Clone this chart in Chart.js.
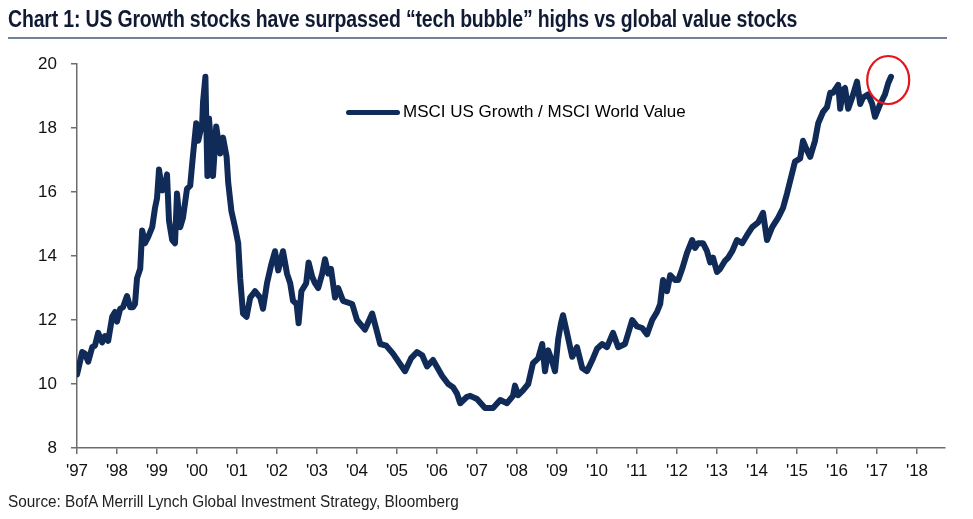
<!DOCTYPE html>
<html lang="en">
<head>
  <meta charset="UTF-8">
  <title>US Growth vs Global Value</title>
  <script src="https://cdn.jsdelivr.net/npm/chart.js"></script>
  <style>
    html, body {
      margin: 0; padding: 0;
      width: 973px; height: 519px;
      background: #fff; overflow: hidden;
    }
    .title {
      position: absolute; left: 8px; top: 6px;
      font: bold 23px "Liberation Sans", Arial, sans-serif;
      color: #101a33; white-space: nowrap;
      transform-origin: 0 0; transform: scaleX(0.847);
      letter-spacing: -0.2px;
    }
    .rule {
      position: absolute; left: 8px; top: 37px;
      width: 939px; height: 2px; background: #6f8398;
    }
    .source {
      position: absolute; left: 8px; top: 493px;
      font: 16px "Liberation Sans", Arial, sans-serif;
      color: #222; white-space: nowrap;
      transform-origin: 0 0; transform: scaleX(0.958);
    }
    .legend {
      position: absolute; left: 346px; top: 102px;
      font: 17px "Liberation Sans", Arial, sans-serif;
      color: #000; white-space: nowrap;
    }
    .legend i {
      display: inline-block; width: 54px; height: 5px;
      border-radius: 3px; background: #102b57;
      vertical-align: middle; margin-right: 3px;
    }
    canvas { position: absolute; left: 0; top: 0; }
  </style>
</head>
<body>
  <canvas id="chart" width="973" height="519"></canvas>
  <div class="title">Chart 1: US Growth stocks have surpassed “tech bubble” highs vs global value stocks</div>
  <div class="rule"></div>
  <div class="legend"><i></i>MSCI US Growth / MSCI World Value</div>
  <div class="source">Source: BofA Merrill Lynch Global Investment Strategy, Bloomberg</div>

  <script>
    // dates as decimal years
    const years = [
      1997.00, 1997.03, 1997.13, 1997.20, 1997.28, 1997.38, 1997.45, 1997.53, 1997.63, 1997.70, 1997.78, 1997.88, 1997.95,
      1998.00, 1998.08, 1998.15, 1998.25, 1998.33, 1998.40, 1998.45, 1998.50, 1998.58, 1998.63, 1998.70, 1998.78, 1998.88, 1998.95,
      1999.00, 1999.05, 1999.13, 1999.20, 1999.25, 1999.30, 1999.38, 1999.45, 1999.50, 1999.58, 1999.65, 1999.75, 1999.83, 1999.90, 1999.98,
      2000.03, 2000.13, 2000.15, 2000.21, 2000.26, 2000.30, 2000.35, 2000.40, 2000.48, 2000.58, 2000.65, 2000.74, 2000.78, 2000.86, 2000.95,
      2001.03, 2001.08, 2001.15, 2001.24, 2001.33, 2001.45, 2001.58, 2001.65, 2001.75, 2001.86, 2001.95,
      2002.03, 2002.15, 2002.25, 2002.33, 2002.40, 2002.49, 2002.54, 2002.61, 2002.73, 2002.79, 2002.88, 2002.95,
      2003.03, 2003.13, 2003.20, 2003.28, 2003.35, 2003.45, 2003.53, 2003.65, 2003.88,
      2004.00, 2004.20, 2004.38, 2004.58, 2004.73, 2004.90,
      2005.20, 2005.35, 2005.50, 2005.63, 2005.75, 2005.90,
      2006.13, 2006.28, 2006.40, 2006.50, 2006.58, 2006.75, 2006.83,
      2007.00, 2007.20, 2007.40, 2007.58, 2007.75, 2007.90, 2007.95,
      2008.03, 2008.15, 2008.28, 2008.40, 2008.53, 2008.63, 2008.70, 2008.78, 2008.88, 2008.95,
      2009.03, 2009.10, 2009.15, 2009.25, 2009.38, 2009.50, 2009.63, 2009.75, 2009.90,
      2010.00, 2010.13, 2010.25, 2010.40, 2010.53, 2010.70, 2010.88,
      2011.00, 2011.13, 2011.25, 2011.38, 2011.50, 2011.58, 2011.65, 2011.75, 2011.83, 2011.95,
      2012.03, 2012.13, 2012.25, 2012.38, 2012.45, 2012.53, 2012.65, 2012.75, 2012.83, 2012.90,
      2013.00, 2013.08, 2013.20, 2013.28, 2013.38, 2013.50, 2013.63, 2013.75, 2013.88,
      2014.03, 2014.15, 2014.25, 2014.38, 2014.53, 2014.65, 2014.75, 2014.88, 2014.95,
      2015.08, 2015.15, 2015.25, 2015.33, 2015.45, 2015.53, 2015.65, 2015.75, 2015.83, 2015.90, 2015.95,
      2016.03, 2016.08, 2016.15, 2016.20, 2016.28, 2016.38, 2016.50, 2016.58, 2016.65, 2016.78, 2016.88, 2016.95,
      2017.08, 2017.20, 2017.28, 2017.35
    ];

    // MSCI US Growth / MSCI World Value
    const ratio = [
      10.3, 10.45, 11.0, 10.95, 10.7, 11.15, 11.2, 11.6, 11.3, 11.5, 11.35, 12.1, 12.25,
      11.95, 12.35, 12.4, 12.75, 12.4, 12.4, 12.5, 13.3, 13.6, 14.8, 14.4, 14.6, 14.9, 15.5,
      15.8, 16.7, 16.05, 16.15, 16.55, 15.1, 14.5, 14.4, 15.95, 14.9, 15.2, 16.1, 16.2, 17.15, 18.15,
      17.6, 18.15, 18.8, 19.6, 16.5, 18.3, 17.5, 16.5, 18.05, 17.2, 17.7, 17.1, 16.3, 15.4, 14.9,
      14.4, 13.3, 12.2, 12.1, 12.7, 12.9, 12.7, 12.35, 13.15, 13.75, 14.15,
      13.55, 14.15, 13.45, 13.15, 12.6, 12.5, 11.9, 12.9, 13.15, 13.8, 13.35, 13.15,
      13.0, 13.45, 13.9, 13.45, 13.6, 12.7, 13.0, 12.6, 12.5,
      12.0, 11.7, 12.2, 11.25, 11.2, 10.95,
      10.4, 10.8, 11.0, 10.9, 10.55, 10.75,
      10.25, 10.0, 9.9, 9.7, 9.4, 9.6, 9.63,
      9.53, 9.25, 9.25, 9.5, 9.4, 9.63, 9.95,
      9.65, 9.8, 10.0, 10.65, 10.8, 11.25, 10.4, 11.05, 10.7, 10.4,
      11.4, 11.9, 12.15, 11.6, 10.85, 11.15, 10.5, 10.4, 10.8,
      11.1, 11.25, 11.15, 11.6, 11.15, 11.25, 12.0,
      11.8, 11.75, 11.55, 12.0, 12.25, 12.5, 13.25, 12.9, 13.4, 13.25,
      13.25, 13.6, 14.1, 14.5, 14.25, 14.4, 14.4, 14.15, 13.8, 13.95,
      13.5, 13.6, 13.85, 13.95, 14.15, 14.5, 14.4, 14.65, 14.9,
      15.05, 15.35, 14.5, 14.9, 15.2, 15.5, 15.95, 16.6, 16.95,
      17.05, 17.6, 17.3, 17.1, 17.6, 18.15, 18.5, 18.65, 19.1, 19.1, 19.2,
      19.35, 18.6, 19.2, 19.25, 18.6, 18.95, 19.45, 18.75, 18.95, 19.05, 18.75, 18.35,
      18.75, 19.05, 19.4, 19.6
    ];

    const yTicks = [8, 10, 12, 14, 16, 18, 20];
    const circleAt = [2017.28, 19.5];   // red ring round the latest reading

    const tickFont = { family: '"Liberation Sans", Arial, sans-serif', size: 17 };

    // red ellipse marking the new high
    const ringPlugin = {
      id: 'ring',
      afterDatasetsDraw(chart) {
        const { ctx, scales } = chart;
        const cx = scales.x.getPixelForValue(circleAt[0]);
        const cy = scales.y.getPixelForValue(circleAt[1]);
        ctx.save();
        ctx.strokeStyle = '#e3171b';
        ctx.lineWidth = 2.2;
        ctx.beginPath();
        ctx.ellipse(cx, cy, 21, 24, 0, 0, Math.PI * 2);
        ctx.stroke();
        ctx.restore();
      }
    };

    new Chart(document.getElementById('chart'), {
      type: 'line',
      data: {
        datasets: [{
          label: 'MSCI US Growth / MSCI World Value',
          data: years.map((x, i) => ({ x: x, y: ratio[i] })),
          borderColor: '#102b57',
          borderWidth: 6,
          borderCapStyle: 'round',
          borderJoinStyle: 'round',
          pointRadius: 0,
          tension: 0
        }]
      },
      options: {
        responsive: false,
        animation: false,
        layout: { padding: { top: 64, right: 28, bottom: 26, left: 0 } },
        plugins: { legend: { display: false }, tooltip: { enabled: false } },
        scales: {
          x: {
            type: 'linear', min: 1997, max: 2018.7,
            afterFit(s) { s.height = 45; },
            ticks: {
              stepSize: 1, includeBounds: false, autoSkip: false, maxRotation: 0,
              padding: 7, color: '#111', font: tickFont,
              callback: v => "'" + String(v).slice(2)
            },
            grid: { drawOnChartArea: false, tickLength: 6, color: '#6d6d6d', lineWidth: 1.5 },
            border: { color: '#6d6d6d', width: 1.5 }
          },
          y: {
            min: 8, max: 20,
            afterFit(s) { s.width = 77; },
            afterBuildTicks(s) { s.ticks = yTicks.map(v => ({ value: v })); },
            ticks: { padding: 14, color: '#111', font: tickFont },
            grid: { drawOnChartArea: false, tickLength: 6, color: '#6d6d6d', lineWidth: 1.5 },
            border: { color: '#6d6d6d', width: 1.5 }
          }
        }
      },
      plugins: [ringPlugin]
    });
  </script>
</body>
</html>
